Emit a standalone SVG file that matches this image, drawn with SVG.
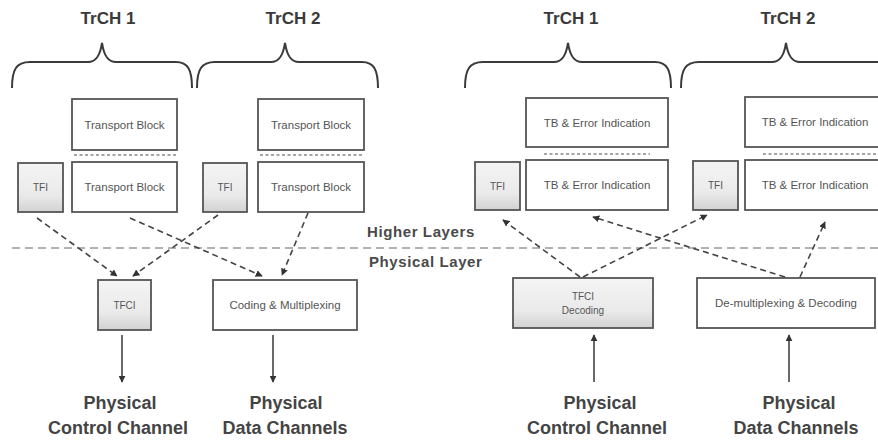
<svg xmlns="http://www.w3.org/2000/svg" width="878" height="442" viewBox="0 0 878 442">
<style>
.bg{fill:#ffffff}
.brace{fill:none;stroke:#3a3a3a;stroke-width:2}
.box{fill:#ffffff;stroke:#555;stroke-width:1.8}
.sbox{fill:url(#shade);stroke:#555;stroke-width:1.8}
.title{font-family:"Liberation Sans",Arial,sans-serif;font-weight:bold;font-size:17px;fill:#3a3a3a;text-anchor:middle}
.lbl{font-family:"Liberation Sans",Arial,sans-serif;font-size:11.5px;fill:#555;text-anchor:middle}
.sm{font-family:"Liberation Sans",Arial,sans-serif;font-size:10px;fill:#555;text-anchor:middle}
.layer{font-family:"Liberation Sans",Arial,sans-serif;font-weight:bold;font-size:15px;fill:#4a4a4a;letter-spacing:0.6px}
.chan{font-family:"Liberation Sans",Arial,sans-serif;font-weight:bold;font-size:18px;fill:#444;text-anchor:middle}
.dash{fill:none;stroke:#444;stroke-width:1.6;stroke-dasharray:6 4}
.solid{fill:none;stroke:#444;stroke-width:1.6}
.sep{fill:none;stroke:#999;stroke-width:1.5;stroke-dasharray:8 5}
.dots{fill:none;stroke:#888;stroke-width:1.5;stroke-dasharray:3 2.5}
</style>
<defs>
<linearGradient id="shade" x1="0" y1="0" x2="0" y2="1">
<stop offset="0" stop-color="#f4f4f4"/>
<stop offset="0.65" stop-color="#eaeaea"/>
<stop offset="1" stop-color="#d2d2d2"/>
</linearGradient>
<marker id="ah" viewBox="0 0 10 10" refX="9" refY="5" markerWidth="7" markerHeight="7" orient="auto" markerUnits="userSpaceOnUse">
<path d="M0,0 L10,5 L0,10 z" fill="#333"/>
</marker>
</defs>
<rect class="bg" x="0" y="0" width="878" height="442"/>

<g id="titles">
<text class="title" x="108" y="24">TrCH 1</text>
<text class="title" x="293" y="24">TrCH 2</text>
<text class="title" x="571" y="24">TrCH 1</text>
<text class="title" x="788" y="24">TrCH 2</text>
</g>

<g id="braces">
<path class="brace" d="M12,88 C12,70 16,62 30,62 L88,62 C96,62 100,56 102,43 C104,56 108,62 116,62 L176,62 C188,62 192,70 192,88"/>
<path class="brace" d="M197,88 C197,70 201,62 215,62 L271,62 C279,62 283,56 285,43 C287,56 291,62 299,62 L362,62 C374,62 378,70 378,88"/>
<path class="brace" d="M465,88 C465,70 469,62 483,62 L554,62 C562,62 566,56 568,43 C570,56 574,62 582,62 L655,62 C667,62 671,70 671,88"/>
<path class="brace" d="M681,88 C681,70 685,62 699,62 L772,62 C780,62 784,56 786,43 C788,56 792,62 800,62 L878,62 C890,62 894,70 894,88"/>
</g>

<g id="l-tb1-top"><rect class="box" x="72" y="99" width="105" height="51"/><text class="lbl" x="124.5" y="129">Transport Block</text></g>
<g id="l-tb1-bot"><rect class="box" x="72" y="162" width="105" height="50"/><text class="lbl" x="124.5" y="191">Transport Block</text></g>
<g id="l-tfi1"><rect class="sbox" x="18" y="163" width="45" height="49"/><text class="sm" x="40.5" y="191">TFI</text></g>
<path class="dots" d="M74,155 H176"/>

<g id="l-tb2-top"><rect class="box" x="258" y="99" width="106" height="51"/><text class="lbl" x="311" y="129">Transport Block</text></g>
<g id="l-tb2-bot"><rect class="box" x="258" y="162" width="106" height="50"/><text class="lbl" x="311" y="191">Transport Block</text></g>
<g id="l-tfi2"><rect class="sbox" x="203" y="163" width="44" height="49"/><text class="sm" x="225" y="191">TFI</text></g>
<path class="dots" d="M260,155 H363"/>

<g id="r-tb1-top"><rect class="box" x="526" y="98" width="142" height="49"/><text class="lbl" x="597" y="127">TB &amp; Error Indication</text></g>
<g id="r-tb1-bot"><rect class="box" x="526" y="160" width="142" height="50"/><text class="lbl" x="597" y="189">TB &amp; Error Indication</text></g>
<g id="r-tfi1"><rect class="sbox" x="475" y="162" width="45" height="48"/><text class="sm" x="497.5" y="190">TFI</text></g>
<path class="dots" d="M544,154 H650"/>

<g id="r-tb2-top"><rect class="box" x="745" y="97" width="140" height="50"/><text class="lbl" x="815" y="126">TB &amp; Error Indication</text></g>
<g id="r-tb2-bot"><rect class="box" x="745" y="160" width="140" height="50"/><text class="lbl" x="815" y="189">TB &amp; Error Indication</text></g>
<g id="r-tfi2"><rect class="sbox" x="693" y="161" width="45" height="49"/><text class="sm" x="715.5" y="189">TFI</text></g>
<path class="dots" d="M763,154 H878"/>

<g id="layers">
<path class="sep" d="M12,248 H878"/>
<text class="layer" x="367" y="237">Higher Layers</text>
<text class="layer" x="369" y="267">Physical Layer</text>
</g>

<g id="l-tfci"><rect class="sbox" x="98" y="280" width="53" height="50"/><text class="sm" x="124.5" y="309">TFCI</text></g>
<g id="l-coding"><rect class="box" x="213" y="280" width="144" height="50"/><text class="lbl" x="285" y="309">Coding &amp; Multiplexing</text></g>
<g id="r-tfcidec"><rect class="sbox" x="513" y="278" width="140" height="50"/><text class="sm" x="583" y="300">TFCI</text><text class="sm" x="583" y="314">Decoding</text></g>
<g id="r-demux"><rect class="box" x="697" y="278" width="178" height="50"/><text class="lbl" x="786" y="307">De-multiplexing &amp; Decoding</text></g>

<g id="connectors">
<path class="dash" d="M37,218 L117,276" marker-end="url(#ah)"/>
<path class="dash" d="M218,215 L133,276" marker-end="url(#ah)"/>
<path class="dash" d="M130,218 L262,276" marker-end="url(#ah)"/>
<path class="dash" d="M308,213 L282,275" marker-end="url(#ah)"/>
<path class="solid" d="M122,335 L122,382" marker-end="url(#ah)"/>
<path class="solid" d="M273,335 L273,382" marker-end="url(#ah)"/>
<path class="dash" d="M580,277 L503,220" marker-end="url(#ah)"/>
<path class="dash" d="M583,277 L707,215" marker-end="url(#ah)"/>
<path class="dash" d="M785,277 L593,217" marker-end="url(#ah)"/>
<path class="dash" d="M800,277 L825,222" marker-end="url(#ah)"/>
<path class="solid" d="M594,382 L594,335" marker-end="url(#ah)"/>
<path class="solid" d="M789,382 L789,335" marker-end="url(#ah)"/>
</g>

<g id="channels">
<text class="chan" x="120" y="409">Physical</text>
<text class="chan" x="118" y="434">Control Channel</text>
<text class="chan" x="286" y="409">Physical</text>
<text class="chan" x="285" y="434">Data Channels</text>
<text class="chan" x="600" y="409">Physical</text>
<text class="chan" x="597" y="434">Control Channel</text>
<text class="chan" x="799" y="409">Physical</text>
<text class="chan" x="796" y="434">Data Channels</text>
</g>
</svg>
